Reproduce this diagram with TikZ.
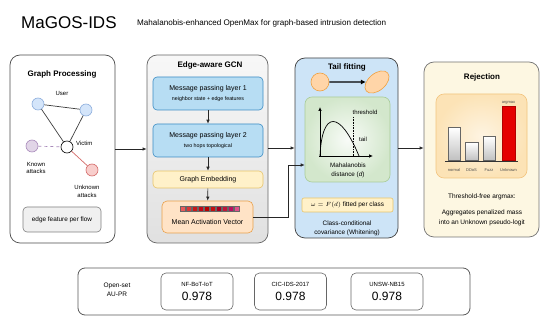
\documentclass[tikz,border=0pt]{standalone}
\usepackage{fontspec}
\setmainfont{Liberation Sans}
\usetikzlibrary{arrows.meta,shapes.geometric,calc}
\newcommand\fsz[2]{\fontsize{#1}{#2}\selectfont}
\begin{document}
\begin{tikzpicture}[x=1pt,y=-1pt,
  every node/.style={inner sep=0pt, align=center},
  panel/.style={draw=#1, rounded corners=10pt, line width=0.7pt},
  ptitle/.style={font=\fsz{8}{9}\bfseries},
  conn/.style={draw=black!85, line width=0.7pt, -{Latex[length=4pt,width=3.5pt]}},
  gnode/.style={circle, minimum size=12, line width=0.6pt},
  gedge/.style={draw=black!75, line width=0.7pt},
  small/.style={font=\fsz{6}{7.5}},
  mpbox/.style={draw=mpB, fill=mpF, rounded corners=4pt, line width=0.6pt, minimum width=110, minimum height=33},
  bar/.style={draw=black!60, line width=0.5pt, top color=white, bottom color=black!25},
  tinylab/.style={font=\fsz{4}{5}, text=black!70},
  resbox/.style={draw=black!60, rounded corners=5pt, line width=0.6pt, minimum width=72, minimum height=37},
]
\definecolor{mpB}{HTML}{3C8DC4}
\definecolor{mpF}{HTML}{B7DDF3}
\definecolor{geB}{HTML}{E8C46A}
\definecolor{geF}{HTML}{FFF1C9}
\definecolor{maB}{HTML}{E8A04A}
\definecolor{maF}{HTML}{FFE3C6}
\definecolor{tfF}{HTML}{CDE4F7}
\definecolor{grB}{HTML}{A9CC98}
\definecolor{grF}{HTML}{D3E7CC}
\definecolor{rjF}{HTML}{FDF7E2}
\definecolor{orB}{HTML}{F3C47E}
\definecolor{orF}{HTML}{FCE3B6}
\definecolor{ovF}{HTML}{FFD5A8}
\definecolor{ovB}{HTML}{F0A040}
\definecolor{unF}{HTML}{D4E5FA}
\definecolor{unB}{HTML}{8DAEDD}
\definecolor{knF}{HTML}{E1D5E7}
\definecolor{knB}{HTML}{A98BBB}
\definecolor{xF}{HTML}{F8CECC}
\definecolor{xB}{HTML}{D46A68}

\useasboundingbox (0,0) rectangle (550,323);

% title
\node[anchor=west, font=\fsz{17}{19}] (title) at (21,23) {MaGOS-IDS};
\node[anchor=west, font=\fsz{8.1}{9}] (subtitle) at (137,23) {Mahalanobis-enhanced OpenMax for graph-based intrusion detection};

% ---------- panel 1
\node[panel=black!70, fill=white, minimum width=105, minimum height=188] (p1) at (62.5,149) {};
\node[ptitle] (p1t) at (62,74) {Graph Processing};
\node[gnode, draw=unB, fill=unF] (u1) at (38,104) {};
\node[gnode, draw=unB, fill=unF] (u2) at (86,110) {};
\node[gnode, draw=black, fill=white] (vic) at (67,147) {};
\node[gnode, draw=knB, fill=knF] (kn) at (32,146) {};
\node[gnode, draw=xB, fill=xF] (un) at (92,170) {};
\draw[gedge] (u1) -- (u2);
\draw[gedge] (u1) -- (vic);
\draw[gedge] (u2) -- (vic);
\draw[draw=knB, dashed, line width=0.7pt] (kn) -- (vic);
\draw[draw=xB, line width=0.7pt] (vic) -- (un);
\node[small] (lu) at (62,93) {User};
\node[small, anchor=west] (lv) at (76,143) {Victim};
\node[small] (lk) at (36,168) {Known\\attacks};
\node[small] (lx) at (87,191.5) {Unknown\\attacks};
\node[draw=black!50, fill=black!6, rounded corners=4pt, line width=0.6pt, minimum width=78, minimum height=25, font=\fsz{6.4}{7.5}] (ef) at (62,219.5) {edge feature per flow};

% ---------- panel 2
\node[panel=black!60, top color=black!3, bottom color=black!12, minimum width=121, minimum height=188] (p2) at (207.5,149) {};
\node[ptitle] (p2t) at (210,65) {Edge-aware GCN};
\node[mpbox] (l1) at (208,93.5) {};
\node[font=\fsz{7}{8}] (l1a) at (208,89) {Message passing layer 1};
\node[font=\fsz{5.3}{6}] (l1b) at (208,99) {neighbor state + edge features};
\node[mpbox] (l2) at (208,140.5) {};
\node[font=\fsz{7}{8}] (l2a) at (208,136) {Message passing layer 2};
\node[font=\fsz{5.3}{6}] (l2b) at (208,146) {two hops topological};
\node[draw=geB, fill=geF, rounded corners=4pt, line width=0.6pt, minimum width=110, minimum height=17, font=\fsz{7}{8}] (ge) at (208,179.5) {Graph Embedding};
\node[draw=maB, fill=maF, rounded corners=5pt, line width=0.6pt, minimum width=91, minimum height=32] (mav) at (207.5,217) {};
\node[font=\fsz{7}{8}] (mavt) at (207.5,222) {Mean Activation Vector};
\foreach \c [count=\i] in {E85A5A,D83838,C81818,C00818,B80000,C41010,A80020,C01838,B81060,E0508A}{
  \definecolor{sq}{HTML}{\c}
  \node[draw=black!60, fill=sq, line width=0.3pt, minimum size=5] (sq\i) at (177+6*\i,209) {};
}
\draw[conn] (l1) -- (l2);
\draw[conn] (l2) -- (ge);
\draw[conn] (ge) -- (mav);

% ---------- panel 3
\node[panel=black!75, fill=tfF, minimum width=103, minimum height=180] (p3) at (346.5,148) {};
\node[ptitle] (p3t) at (347,67) {Tail fitting};
\node[circle, draw=ovB, fill=ovF, minimum size=18, line width=0.6pt] (c1) at (320,82) {};
\node[ellipse, draw=ovB, fill=ovF, minimum width=28, minimum height=17, line width=0.6pt, rotate=40] (c2) at (377,82) {};
\draw[draw=black, line width=1.2pt, -{Latex[length=5pt,width=5pt]}] (c1) -- (c2);
\node[draw=grB, inner color=white!85!grF, outer color=grF, rounded corners=7pt, line width=0.6pt, minimum width=85, minimum height=85] (gb) at (347.5,139.5) {};
\draw[line width=0.7pt, -{Latex[length=4pt,width=3.5pt]}] (320,157) -- (320,107);
\draw[line width=0.7pt, -{Latex[length=4pt,width=3.5pt]}] (319,156) -- (373,156);
\draw[line width=0.7pt] (320,156) .. controls (322,110) and (340,110) .. (359,156);
\draw[line width=0.6pt, densely dotted] (353,117) -- (353,156);
\node[font=\fsz{6}{7}] (thr) at (365,112) {threshold};
\node[font=\fsz{6}{7}] (tl) at (363,139) {tail};
\node[font=\fsz{6.3}{8.3}] (md) at (348,170.5) {Mahalanobis\\distance (\textit{d})};
\node[draw=geB, fill=geF, rounded corners=2pt, line width=0.6pt, minimum width=91, minimum height=14, font=\fsz{6.4}{7.5}] (fm) at (347.5,205) {$\omega = F(d)$ fitted per class};
\node[font=\fsz{6.4}{8.5}] (cc) at (347,228.5) {Class-conditional\\covariance (Whitening)};

% ---------- panel 4
\node[panel=black!55, fill=rjF, minimum width=115, minimum height=175] (p4) at (481.5,149.5) {};
\node[ptitle] (p4t) at (482,77) {Rejection};
\node[draw=orB, inner color=white!60!orF, outer color=orF, rounded corners=8pt, line width=0.6pt, minimum width=91, minimum height=84] (ib) at (481.5,136) {};
\node[bar, minimum width=12, minimum height=33, anchor=south] (b1) at (454,161) {};
\node[bar, minimum width=13, minimum height=18, anchor=south] (b2) at (471.5,161) {};
\node[bar, minimum width=12, minimum height=24, anchor=south] (b3) at (489,161) {};
\node[draw=red!70!black, fill=red!90!black, line width=0.5pt, minimum width=13, minimum height=54, anchor=south] (b4) at (508.5,161) {};
\draw[line width=0.7pt, black!80] (445,161) -- (518,161);
\node[tinylab] (am) at (508.5,103) {argmax};
\node[tinylab] (n1) at (454,170) {normal};
\node[tinylab] (n2) at (471.5,170) {DDoS};
\node[tinylab] (n3) at (489,170) {Fuzz};
\node[tinylab] (n4) at (508.5,170) {Unknown};
\node[font=\fsz{6.5}{8}] (tf) at (482,197) {Threshold-free argmax:};
\node[font=\fsz{6.5}{9.5}] (ag) at (482,218) {Aggregates penalized mass\\into an Unknown pseudo-logit};

% ---------- connectors between panels
\draw[conn] (p1.east) -- (p1.east -| p2.west);
\draw[conn] (p2.east |- 0,148) -- (p3.west |- 0,148);
\coordinate (bend) at (288,165);
\draw[conn] (mav.east) -| (bend) -- (bend -| gb.west);
\draw[conn] (p3.east) -- (p3.east -| p4.west);

% ---------- bottom results
\node[draw=black!65, fill=white, rounded corners=7pt, line width=0.8pt, minimum width=392, minimum height=47] (res) at (274,291.5) {};
\node[font=\fsz{6.5}{9}] (os) at (117,289.5) {Open-set\\AU-PR};
\node[resbox] (r1) at (197,291.5) {};
\node[font=\fsz{6}{7}] (r1a) at (197,284) {NF-BoT-IoT};
\node[font=\fsz{12}{13}] (r1b) at (197,296) {0.978};
\node[resbox] (r2) at (290.5,291.5) {};
\node[font=\fsz{6}{7}] (r2a) at (290.5,284) {CIC-IDS-2017};
\node[font=\fsz{12}{13}] (r2b) at (290.5,296) {0.978};
\node[resbox] (r3) at (387,291.5) {};
\node[font=\fsz{6}{7}] (r3a) at (387,284) {UNSW-NB15};
\node[font=\fsz{12}{13}] (r3b) at (387,296) {0.978};
\end{tikzpicture}
\end{document}
